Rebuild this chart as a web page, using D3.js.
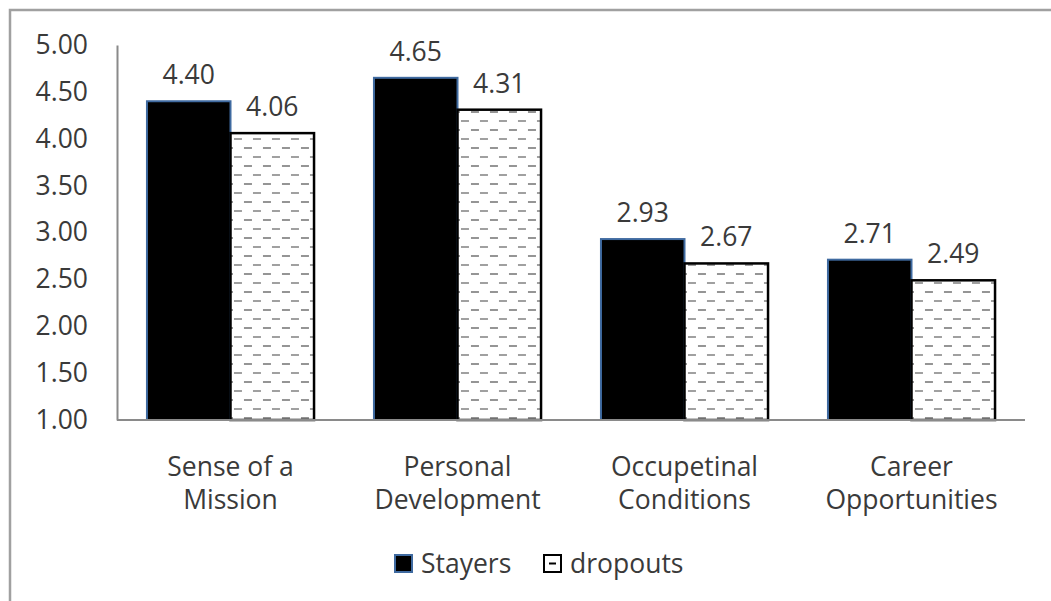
<!DOCTYPE html>
<html>
<head>
<meta charset="utf-8">
<script src="https://cdnjs.cloudflare.com/ajax/libs/d3/7.8.5/d3.min.js"></script>
<style>
  html, body { margin: 0; padding: 0; background: #fff; }
  svg { display: block; font-family: "Open Sans", Lato, sans-serif; }
</style>
</head>
<body>
<svg width="1051" height="601"></svg>
<script>
(function () {
  'use strict';

  const categories = [["Sense of a", "Mission"], ["Personal", "Development"], ["Occupetinal", "Conditions"], ["Career", "Opportunities"]];
  const seriesNames = ["Stayers", "dropouts"];
  const stayers = [4.40, 4.65, 2.93, 2.71];
  const dropouts = [4.06, 4.31, 2.67, 2.49];
  const yTicks = [1.00, 1.50, 2.00, 2.50, 3.00, 3.50, 4.00, 4.50, 5.00];

  const svg = d3.select("svg");
  const textColor = "#3a3a3a";
  const fs = 26.5;

  // hatch for dropouts
  const defs = svg.append("defs");
  const pat = defs.append("pattern")
    .attr("id", "dash")
    .attr("patternUnits", "userSpaceOnUse")
    .attr("width", 19).attr("height", 18);
  pat.append("rect").attr("width", 19).attr("height", 18).attr("fill", "#fff");
  pat.append("rect").attr("x", 2).attr("y", 3).attr("width", 8).attr("height", 2).attr("fill", "#959595");
  pat.append("rect").attr("x", 11).attr("y", 12).attr("width", 8).attr("height", 2).attr("fill", "#a0a0a0");

  // outer frame
  svg.append("path")
    .attr("d", "M10,601 V10 H1051")
    .attr("fill", "none").attr("stroke", "#a0a0a0").attr("stroke-width", 2.5);

  const x0 = d3.scaleBand()
    .domain(d3.range(categories.length))
    .range([117, 1025])
    .paddingInner(0.264).paddingOuter(0.132);
  const x1 = d3.scaleBand()
    .domain(seriesNames)
    .range([0, x0.bandwidth()]);
  const y = d3.scaleLinear().domain([1, 5]).range([420, 45]);

  // y axis
  const yAxis = svg.append("g")
    .attr("transform", "translate(117,0)")
    .call(d3.axisLeft(y).tickValues(yTicks).tickFormat(d3.format(".2f")).tickSize(0).tickPadding(29));
  yAxis.select(".domain").attr("stroke", "#8a8a8a").attr("stroke-width", 2);
  yAxis.selectAll("text").attr("font-size", fs).attr("fill", textColor).attr("font-family", "'Open Sans', sans-serif");

  const data = categories.map((c, i) => ({i, vals: [stayers[i], dropouts[i]]}));

  const groups = svg.append("g").selectAll("g")
    .data(data).join("g")
    .attr("transform", d => `translate(${x0(d.i)},0)`);

  groups.selectAll("rect")
    .data(d => d.vals.map((v, k) => ({k, v})))
    .join("rect")
    .attr("x", d => x1(seriesNames[d.k]))
    .attr("y", d => y(d.v))
    .attr("width", x1.bandwidth())
    .attr("height", d => y(1) - y(d.v))
    .attr("fill", d => d.k === 0 ? "#000" : "url(#dash)")
    .attr("stroke", d => d.k === 0 ? "#3f6aa0" : "#000")
    .attr("stroke-width", d => d.k === 0 ? 2 : 2.5);

  groups.selectAll("text.val")
    .data(d => d.vals.map((v, k) => ({k, v})))
    .join("text")
    .attr("class", "val")
    .attr("x", d => x1(seriesNames[d.k]) + x1.bandwidth() / 2)
    .attr("y", d => y(d.v) - 17)
    .attr("text-anchor", "middle")
    .attr("font-size", fs)
    .attr("fill", textColor)
    .text(d => d.v.toFixed(2));

  // baseline
  svg.append("line")
    .attr("x1", 117).attr("x2", 1025)
    .attr("y1", y(1)).attr("y2", y(1))
    .attr("stroke", "#8a8a8a").attr("stroke-width", 2);

  // category labels
  groups.append("text")
    .attr("x", x0.bandwidth() / 2)
    .attr("text-anchor", "middle")
    .attr("font-size", fs)
    .attr("fill", textColor)
    .selectAll("tspan")
    .data(d => categories[d.i])
    .join("tspan")
    .attr("x", x0.bandwidth() / 2)
    .attr("y", (d, j) => 476 + j * 33)
    .text(d => d);

  // legend
  const legend = svg.append("g");
  const legX = [395, 544];
  seriesNames.forEach((name, k) => {
    legend.append("rect")
      .attr("x", legX[k]).attr("y", 555)
      .attr("width", 17).attr("height", 17)
      .attr("fill", k === 0 ? "#000" : "#fff")
      .attr("stroke", k === 0 ? "#3f6aa0" : "#000")
      .attr("stroke-width", 2);
    if (k === 1) {
      legend.append("line")
        .attr("x1", legX[k] + 5).attr("x2", legX[k] + 12)
        .attr("y1", 563.5).attr("y2", 563.5)
        .attr("stroke", "#000").attr("stroke-width", 2);
    }
    legend.append("text")
      .attr("x", legX[k] + 26).attr("y", 573)
      .attr("font-size", fs)
      .attr("fill", textColor)
      .text(name);
  });
}());
</script>
</body>
</html>
